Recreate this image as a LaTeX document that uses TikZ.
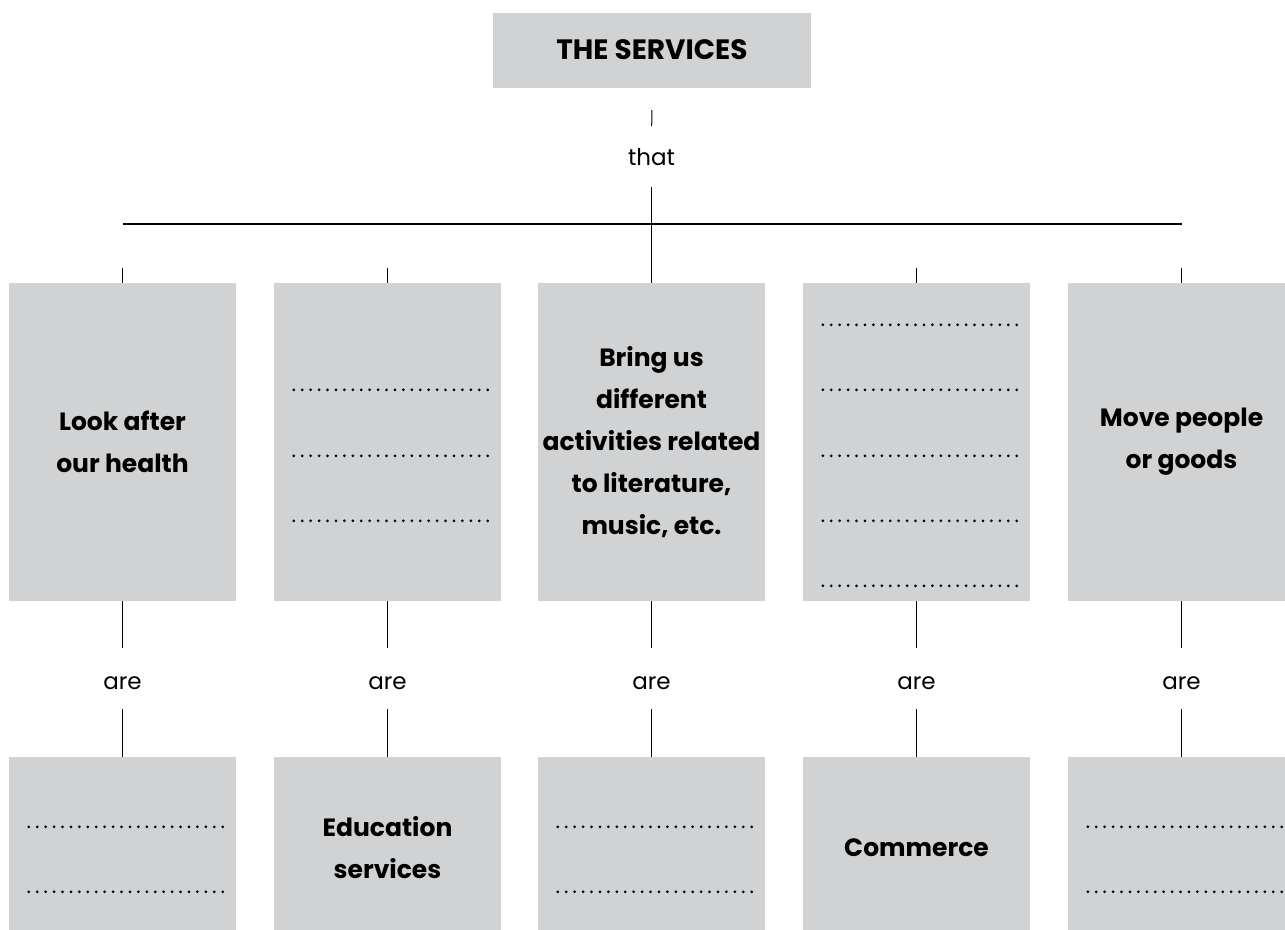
\documentclass[tikz,border=0pt]{standalone}
\usepackage{fontspec}
\setmainfont{Poppins}
\usetikzlibrary{calc}
\definecolor{srvgray}{RGB}{209,210,212}

\begin{document}
\begin{tikzpicture}[x=1pt,y=-1pt,
    box/.style={fill=srvgray, minimum width=227pt, inner sep=0pt, align=center,
      font=\bfseries\fontsize{25}{42}\selectfont},
    lbl/.style={inner sep=0pt, font=\fontsize{23}{28}\selectfont},
    blank/.style={line width=3pt, line cap=round, dash pattern=on 0pt off 8.43pt},
    link/.style={line width=1pt}]
  \clip (0,0) rectangle (1285,929);

  % title and "that"
  \node[box, minimum width=318pt, minimum height=75pt,
    font=\bfseries\fontsize{28}{34}\selectfont] (top) at (652,50) {THE SERVICES};
  \node[lbl] (that) at (651.5,157) {that};

  % first row of boxes
  \node[box, minimum height=318pt] (b1) at (122.5,442) {Look after\\our health};
  \node[box, minimum height=318pt] (b2) at (387.5,442) {};
  \node[box, minimum height=318pt] (b3) at (651.5,442)
    {Bring us\\different\\activities related\\to literature,\\music, etc.};
  \node[box, minimum height=318pt] (b4) at (916.5,442) {};
  \node[box, minimum height=318pt] (b5) at (1181.5,442) {Move people\\or goods};

  % second row, cut off at the bottom
  \node[box, minimum height=182pt] (c1) at (122.5,848) {};
  \node[box, minimum height=182pt] (c2) at (387.5,848) {Education\\services};
  \node[box, minimum height=182pt] (c3) at (651.5,848) {};
  \node[box, minimum height=182pt] (c4) at (916.5,848) {Commerce};
  \node[box, minimum height=182pt] (c5) at (1181.5,848) {};

  \foreach \x/\n in {122.5/1,387.5/2,651.5/3,916.5/4,1181.5/5}
    \node[lbl] (a\n) at (\x,683) {are};

  % lines
  \draw[link, shorten <=22.5pt, shorten >=31pt] (top.south) -- (that.center);
  \draw[link, shorten <=30pt] (that.center) -- (b3.north);
  \coordinate (bl) at ($(b1.north)+(0,-59)$);
  \coordinate (br) at ($(b5.north)+(0,-59)$);
  \draw[line width=1.5pt] (bl) -- (br);
  \foreach \b in {b1,b2,b4,b5}
    \draw[link] (\b.north) -- ++(0,-15);
  \foreach \n in {1,...,5} {
    \draw[link, shorten >=35pt] (b\n.south) -- (a\n.center);
    \draw[link, shorten <=26pt] (a\n.center) -- (c\n.north);
  }

  % dotted blanks to fill in
  \foreach \k in {107,173,238}
    \draw[blank] ($(b2.north west)+(20,\k)$) -- ++(194,0);
  \foreach \k in {42,107,173,238,303}
    \draw[blank] ($(b4.north west)+(20,\k)$) -- ++(194,0);
  \foreach \c in {c1,c3,c5}
    \foreach \k in {70,135}
      \draw[blank] ($(\c.north west)+(20,\k)$) -- ++(194,0);
\end{tikzpicture}
\end{document}
